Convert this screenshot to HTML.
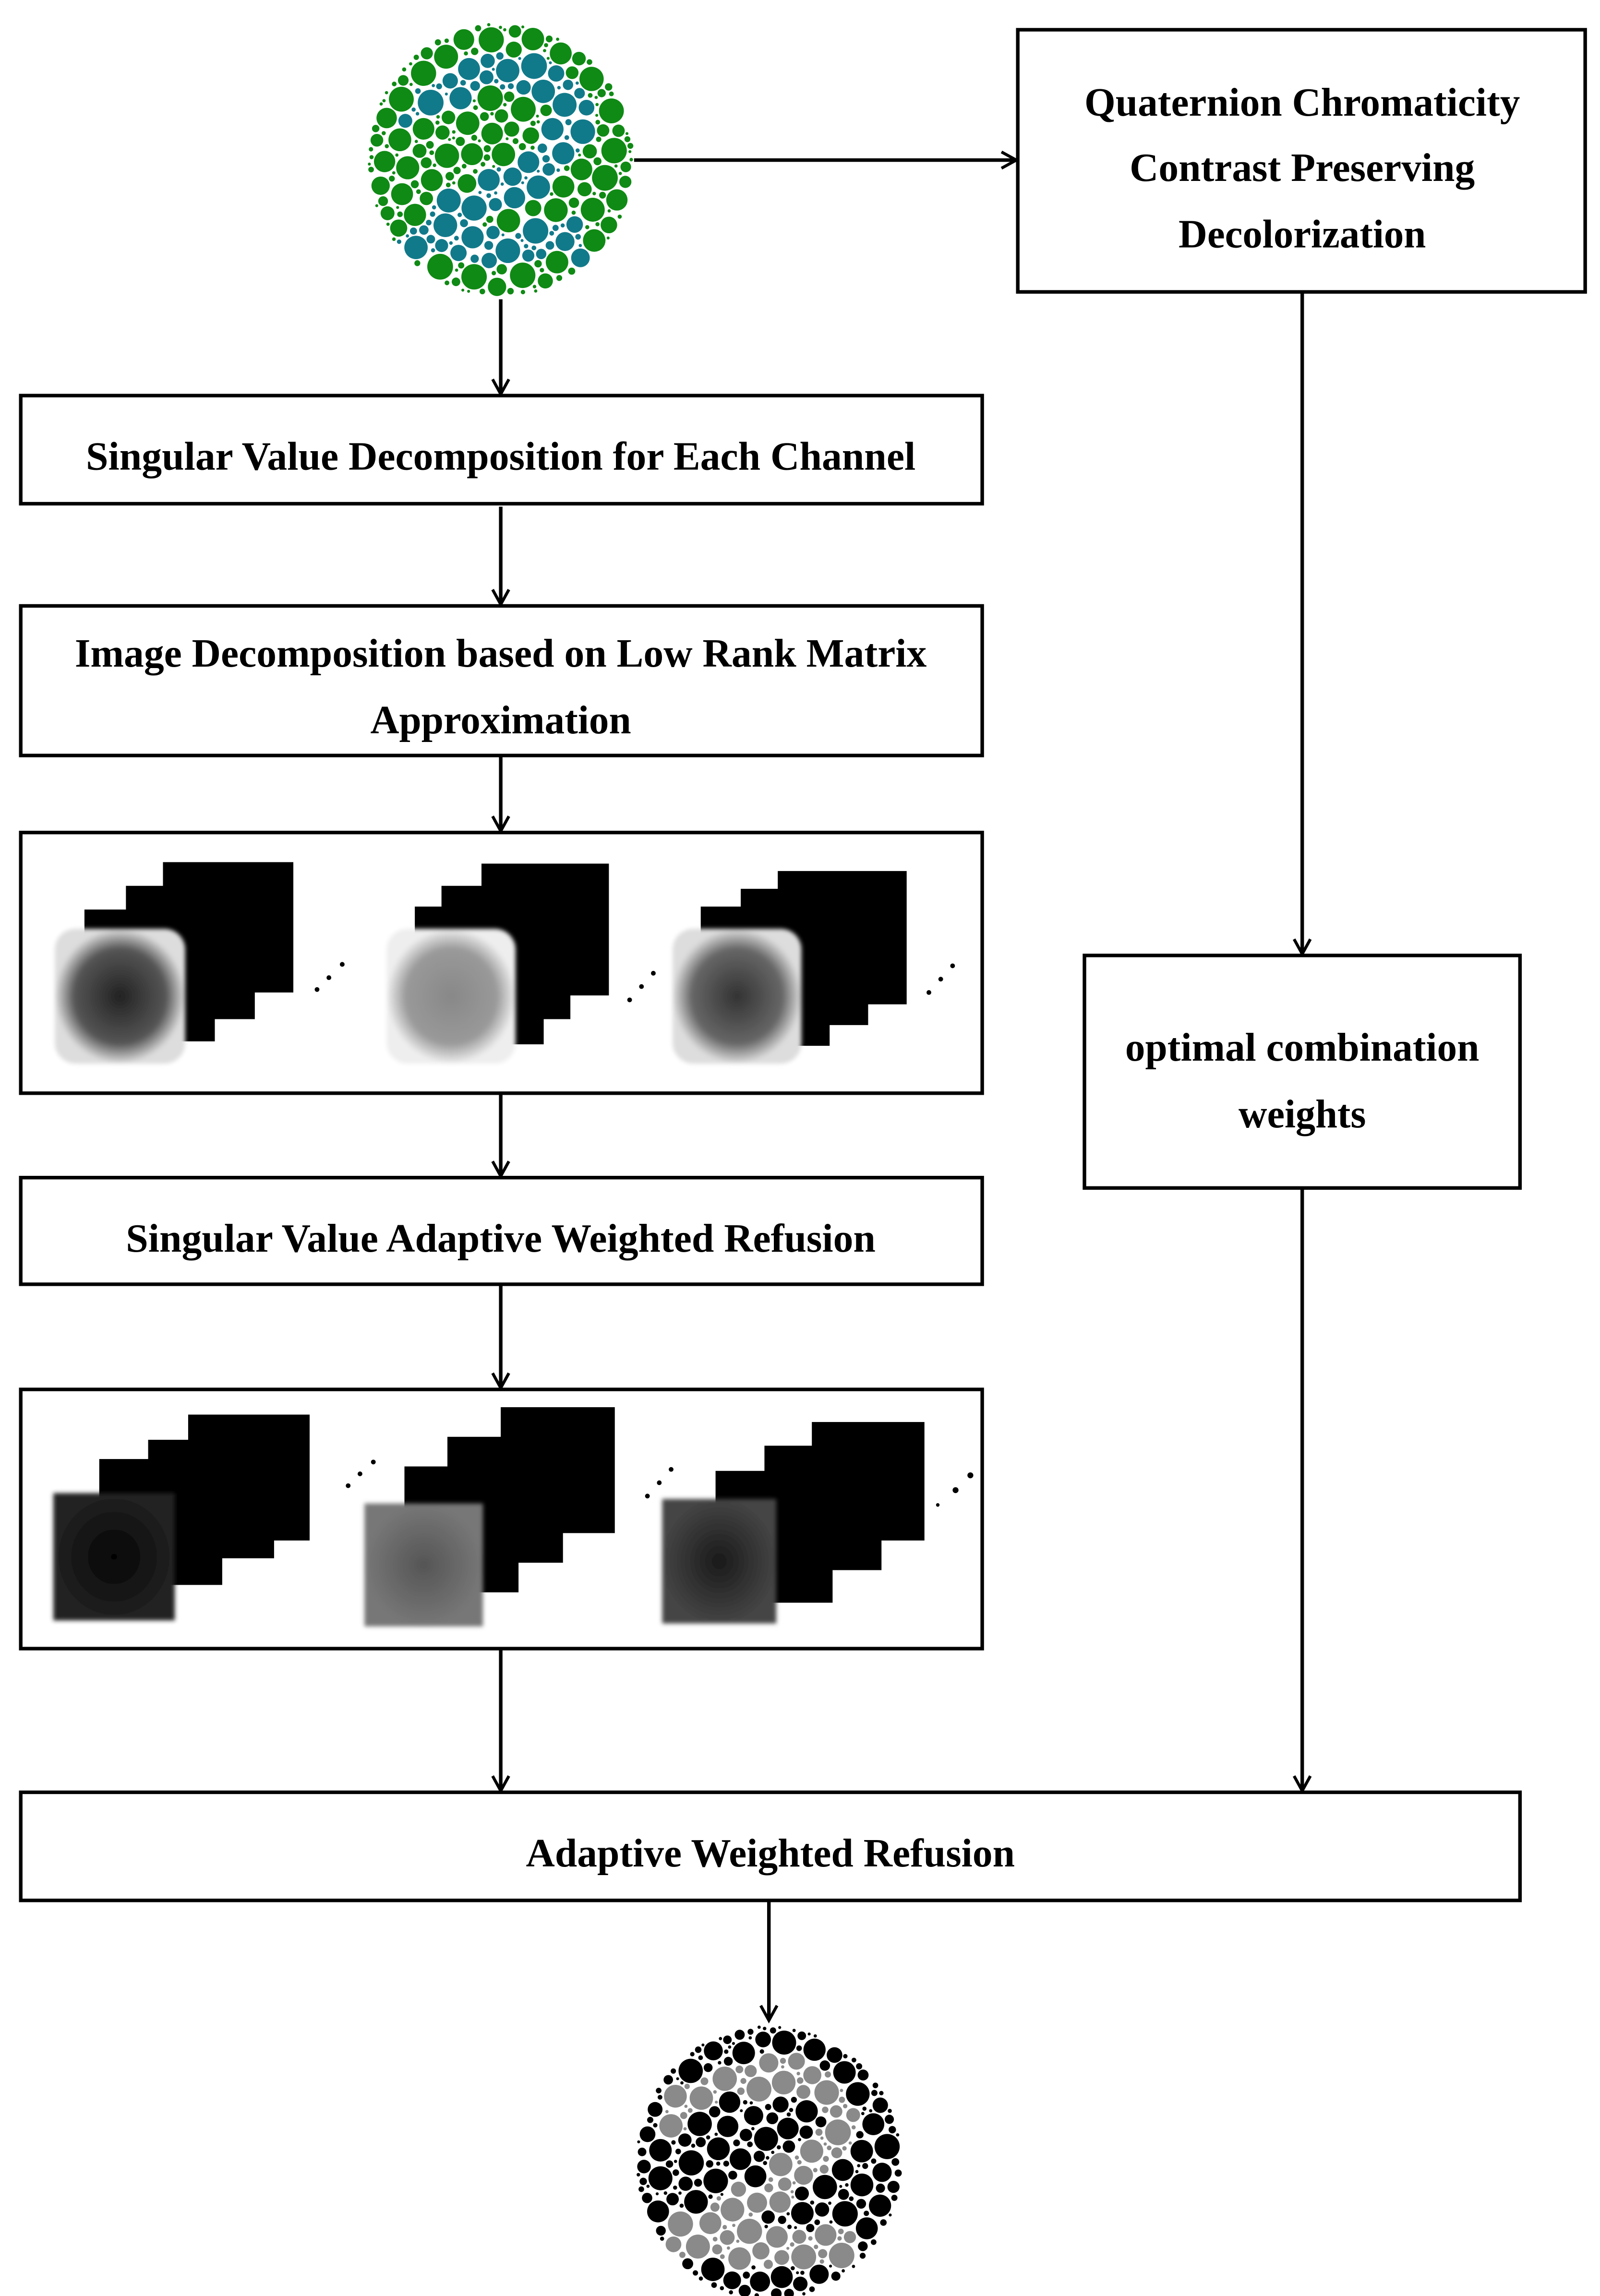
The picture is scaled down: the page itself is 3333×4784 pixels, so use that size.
<!DOCTYPE html>
<html><head><meta charset="utf-8"><style>
html,body{margin:0;padding:0;background:#fff}
svg{display:block}
text{font-family:"Liberation Serif",serif;font-weight:bold;font-size:27px;fill:#000}
</style></head><body>
<svg id="s" width="3333" height="4784" viewBox="0 0 1080 1550" xmlns="http://www.w3.org/2000/svg">
<defs>
<marker id="ar" markerWidth="14" markerHeight="14" refX="12" refY="7" orient="auto" markerUnits="userSpaceOnUse">
<path d="M2,1.5 L12,7 L2,12.5" fill="none" stroke="#000" stroke-width="2"/>
</marker>
<radialGradient id="g1"><stop offset="0" stop-color="#222"/><stop offset="0.7" stop-color="#555"/><stop offset="1" stop-color="#ddd"/></radialGradient>
<radialGradient id="g2"><stop offset="0" stop-color="#888"/><stop offset="0.7" stop-color="#999"/><stop offset="1" stop-color="#eee"/></radialGradient>
<radialGradient id="g3"><stop offset="0" stop-color="#333"/><stop offset="0.7" stop-color="#666"/><stop offset="1" stop-color="#ddd"/></radialGradient>
<radialGradient id="h1"><stop offset="0" stop-color="#050505"/><stop offset="1" stop-color="#222"/></radialGradient>
<radialGradient id="h2"><stop offset="0" stop-color="#555"/><stop offset="1" stop-color="#777"/></radialGradient>
<radialGradient id="h3"><stop offset="0" stop-color="#1a1a1a"/><stop offset="1" stop-color="#444"/></radialGradient>
<filter id="bl"><feGaussianBlur stdDeviation="1.5"/></filter>
</defs>
<g fill="none" stroke="#000" stroke-width="2.4">
<rect x="687" y="20" width="383" height="177"/>
<rect x="14" y="267" width="649" height="73"/>
<rect x="14" y="409" width="649" height="101"/>
<rect x="14" y="562" width="649" height="176"/>
<rect x="14" y="795" width="649" height="72"/>
<rect x="14" y="938" width="649" height="175"/>
<rect x="732" y="645" width="294" height="157"/>
<rect x="14" y="1210" width="1012" height="73"/>
<line x1="428" y1="108" x2="686" y2="108" marker-end="url(#ar)"/>
<line x1="338" y1="202" x2="338" y2="266" marker-end="url(#ar)"/>
<line x1="338" y1="342" x2="338" y2="408" marker-end="url(#ar)"/>
<line x1="338" y1="510" x2="338" y2="561" marker-end="url(#ar)"/>
<line x1="338" y1="738" x2="338" y2="794" marker-end="url(#ar)"/>
<line x1="338" y1="867" x2="338" y2="937" marker-end="url(#ar)"/>
<line x1="338" y1="1113" x2="338" y2="1209" marker-end="url(#ar)"/>
<line x1="879" y1="197" x2="879" y2="644" marker-end="url(#ar)"/>
<line x1="879" y1="802" x2="879" y2="1209" marker-end="url(#ar)"/>
<line x1="519" y1="1283" x2="519" y2="1364" marker-end="url(#ar)"/>
</g>
<g text-anchor="middle" lengthAdjust="spacingAndGlyphs">
<text x="879" y="78" textLength="294" lengthAdjust="spacingAndGlyphs">Quaternion Chromaticity</text>
<text x="879" y="122" textLength="233" lengthAdjust="spacingAndGlyphs">Contrast Preserving</text>
<text x="879" y="167" textLength="167" lengthAdjust="spacingAndGlyphs">Decolorization</text>
<text x="338" y="317" textLength="560" lengthAdjust="spacingAndGlyphs">Singular Value Decomposition for Each Channel</text>
<text x="338" y="450" textLength="575" lengthAdjust="spacingAndGlyphs">Image Decomposition based on Low Rank Matrix</text>
<text x="338" y="495" textLength="176" lengthAdjust="spacingAndGlyphs">Approximation</text>
<text x="338" y="845" textLength="506" lengthAdjust="spacingAndGlyphs">Singular Value Adaptive Weighted Refusion</text>
<text x="520" y="1260" textLength="330" lengthAdjust="spacingAndGlyphs">Adaptive Weighted Refusion</text>
<text x="879" y="716" textLength="239" lengthAdjust="spacingAndGlyphs">optimal combination</text>
<text x="879" y="761" textLength="86" lengthAdjust="spacingAndGlyphs">weights</text>
</g>
<g fill="#000">
<rect x="110" y="582" width="88" height="88"/><rect x="85" y="598" width="87" height="90"/><rect x="57" y="614" width="88" height="89"/>
<rect x="325" y="583" width="86" height="89"/><rect x="298" y="598" width="87" height="90"/><rect x="280" y="612" width="87" height="93"/>
<rect x="525" y="588" width="87" height="90"/><rect x="500" y="600" width="86" height="92"/><rect x="473" y="612" width="87" height="94"/>
<rect x="127" y="955" width="82" height="85"/><rect x="100" y="972" width="85" height="80"/><rect x="67" y="985" width="83" height="85"/>
<rect x="338" y="950" width="77" height="85"/><rect x="302" y="970" width="78" height="85"/><rect x="273" y="990" width="77" height="85"/>
<rect x="548" y="960" width="76" height="80"/><rect x="516" y="976" width="79" height="84"/><rect x="483" y="993" width="79" height="89"/>
</g>
<g filter="url(#bl)">
<rect x="37" y="627" width="88" height="91" rx="14" fill="url(#g1)"/>
<rect x="261" y="627" width="87" height="91" rx="14" fill="url(#g2)"/>
<rect x="454" y="627" width="87" height="91" rx="14" fill="url(#g3)"/>
<rect x="36" y="1008" width="82" height="86" fill="url(#h1)"/>
<rect x="246" y="1015" width="80" height="83" fill="url(#h2)"/>
<rect x="447" y="1012" width="77" height="84" fill="url(#h3)"/>
</g>
<g fill="#000">
<circle cx="214" cy="668" r="1.6"/><circle cx="222" cy="660" r="1.6"/><circle cx="231" cy="651" r="1.6"/>
<circle cx="425" cy="675" r="1.6"/><circle cx="433" cy="666" r="1.6"/><circle cx="441" cy="657" r="1.6"/>
<circle cx="627" cy="670" r="1.6"/><circle cx="635" cy="661" r="1.6"/><circle cx="643" cy="652" r="1.6"/>
<circle cx="235" cy="1003" r="1.6"/><circle cx="243" cy="995" r="1.6"/><circle cx="252" cy="987" r="1.6"/>
<circle cx="437" cy="1010" r="1.6"/><circle cx="445" cy="1001" r="1.6"/><circle cx="453" cy="992" r="1.6"/>
<circle cx="633" cy="1016" r="1.2"/><circle cx="645" cy="1006" r="2"/><circle cx="655" cy="996" r="2"/>
</g>
<g id="c1"></g><g id="c2"></g>
</svg>
<script>
(function(){
var seed=12345;function rnd(){seed=(seed*16807)%2147483647;return seed/2147483647;}
var pts=[[-62,-28],[-45,-48],[-10,-60],[25,-58],[48,-42],[48,-18],[25,5],[-10,25],[-45,42],[-58,55],[-30,55],[10,58],[50,55]];
function d2seg(px,py,a,b){var dx=b[0]-a[0],dy=b[1]-a[1];var t=((px-a[0])*dx+(py-a[1])*dy)/(dx*dx+dy*dy);t=Math.max(0,Math.min(1,t));var x=a[0]+t*dx-px,y=a[1]+t*dy-py;return Math.sqrt(x*x+y*y);}
function inTwo(x,y){for(var i=0;i<pts.length-1;i++){if(d2seg(x,y,pts[i],pts[i+1])<12)return true;}return false;}
function gen(id,cx,cy,rx,ry,c1,c2){
 var g=document.getElementById(id),cs=[],out='';
 var radii=[8,7,6,5.2,4.5,3.8,3.2,2.6,2,1.5,1.1];
 for(var p=0;p<radii.length;p++){
  var tries=p<3?500:2500;
  for(var k=0;k<tries;k++){
   var r=radii[p]*(0.9+rnd()*0.2);
   var a=rnd()*6.2832,q=Math.sqrt(rnd());
   var x=Math.cos(a)*q*(rx-r),y=Math.sin(a)*q*(ry-r);
   var ok=true;
   for(var j=0;j<cs.length;j++){var c=cs[j];var dx=c[0]-x,dy=c[1]-y;var m=c[2]+r+0.7;if(dx*dx+dy*dy<m*m){ok=false;break;}}
   if(!ok)continue;cs.push([x,y,r]);
   var col=inTwo(x*90/rx,y*93/ry)?c2:c1;
   out+='<circle cx="'+(cx+x).toFixed(1)+'" cy="'+(cy+y).toFixed(1)+'" r="'+r.toFixed(1)+'" fill="'+col+'"/>';
  }
 }
 g.innerHTML=out;
}
gen('c1',338,108,90,93,'#0f8a14','#117a8a');
seed=777;
gen('c2',519,1460,90,93,'#000','#8a8a8a');
})();
</script>
</body></html>
